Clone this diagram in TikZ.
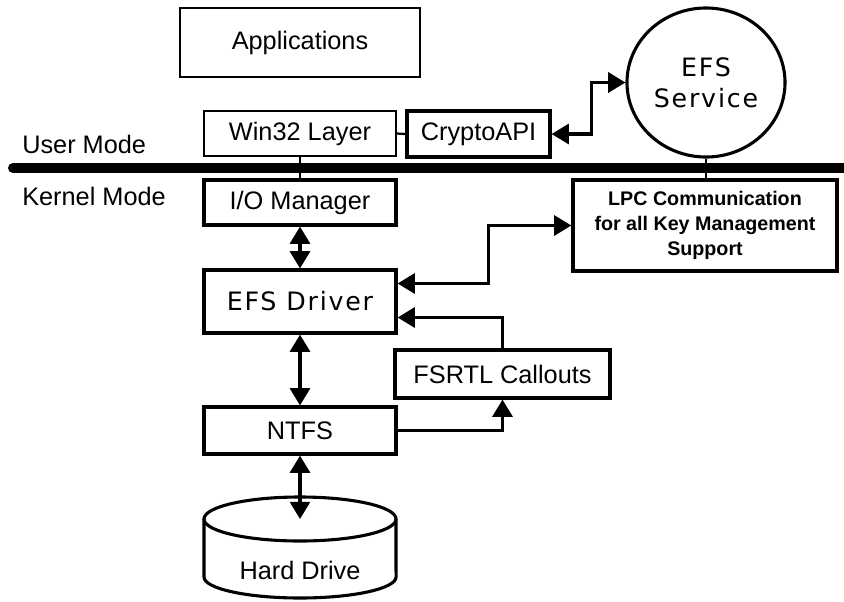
\documentclass[tikz,border=0pt]{standalone}
\usepackage{fontspec}
\setmainfont{Liberation Sans}
\newfontfamily\efsfont[LetterSpace=7]{DejaVu Sans}
\usetikzlibrary{arrows.meta,shapes.geometric,calc}

\begin{document}
\begin{tikzpicture}[x=0.025cm,y=-0.025cm,
  font=\fontsize{18}{21}\selectfont,
  thinbox/.style={draw,line width=1.1pt,inner sep=0pt,minimum height=1.125cm},
  thickbox/.style={draw,line width=2.3pt,inner sep=0pt},
  link/.style={line width=2.2pt},
  tie/.style={line width=1.6pt},
  arr/.style={link,-{Triangle[length=0.43cm,width=0.5cm]}},
  darr/.style={link,{Triangle[length=0.43cm,width=0.5cm]}-{Triangle[length=0.43cm,width=0.5cm]}}]
\useasboundingbox (0,0) rectangle (844,601);

% user mode side
\node[thinbox,minimum width=6cm,minimum height=1.725cm] (app) at (300,42.5) {Applications};
\node[thinbox,minimum width=4.8cm] (win) at (300,133.5) {Win32 Layer};
\node[thickbox,minimum width=3.575cm,minimum height=1.15cm] (crypto) at (478.5,134) {CryptoAPI};
\node[ellipse,draw,line width=2.2pt,inner sep=0pt,minimum width=3.95cm,minimum height=3.725cm,
  align=center,font=\efsfont\fontsize{18}{22}\selectfont] (svc) at (706,82.5) {EFS\\Service};

% mode bar
\draw[line width=0.25cm,line cap=round] (13,168) -- (850,168);
\node[anchor=base west,inner sep=0pt] (user) at (22,153) {User Mode};
\node[anchor=base west,inner sep=0pt] (kernel) at (22,205) {Kernel Mode};

% kernel mode side
\node[thickbox,minimum width=4.8cm,minimum height=1.125cm] (io) at (300,202.5) {I/O Manager};
\node[thickbox,minimum width=4.8cm,minimum height=1.575cm,font=\efsfont\fontsize{18}{21}\selectfont] (drv) at (300,301.5) {EFS Driver};
\node[thickbox,minimum width=6.6cm,minimum height=2.275cm,align=center,
  font=\bfseries\fontsize{14}{17.8}\selectfont] (lpc) at (705,225.5) {LPC Communication\\for all Key Management\\Support};
\node[thickbox,minimum width=5.375cm,minimum height=1.2cm] (fsrtl) at (502.5,374) {FSRTL Callouts};
\node[thickbox,minimum width=4.8cm,minimum height=1.175cm] (ntfs) at (300,430.5) {NTFS};

% hard drive
\coordinate (hdtop) at (300,519);
\draw[link] (hdtop) ellipse [x radius=2.4cm, y radius=0.55cm];
\draw[link] (204,519) -- (204,577) arc[start angle=180,end angle=360,x radius=2.4cm,y radius=0.525cm] -- (396,519);
\node (hd) at (300,570) {Hard Drive};

% connectors
\draw[tie] (win.east) -- (crypto.west);
\draw[tie] (win.south) -- (io.north);
\draw[tie] (svc.south) -- (svc.south |- lpc.north);
\draw[darr] (crypto.east) -- ++(40,0) |- (svc.west);
\draw[darr] (io.south) -- (drv.north);
\draw[darr] ($(drv.east)+(0,-18)$) -- ++(91,0) |- (lpc.west);
\draw[arr] (fsrtl.north) |- ($(drv.east)+(0,16)$);
\draw[arr] (ntfs.east) -| (fsrtl.south);
\draw[darr] (drv.south) -- (ntfs.north);
\draw[darr] (ntfs.south) -- (hdtop);
\end{tikzpicture}
\end{document}
